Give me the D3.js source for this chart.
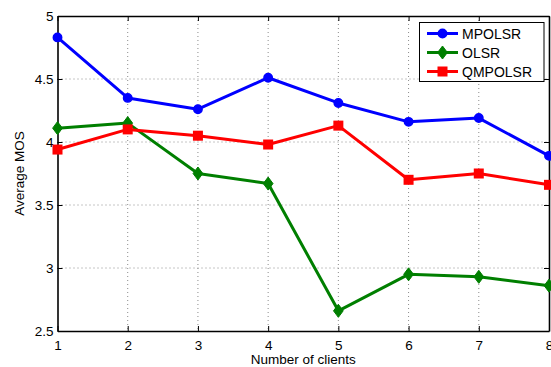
<!DOCTYPE html>
<html>
<head>
<meta charset="utf-8">
<script src="https://cdn.jsdelivr.net/npm/d3@7"></script>
<style>
  html, body { margin: 0; padding: 0; background: #fff; }
  svg { display: block; font-family: "Liberation Sans", Arial, Helvetica, sans-serif; }
</style>
</head>
<body>
<svg id="chart" width="551" height="367"></svg>
<script>
// Average MOS versus number of clients for three routing protocols
const clients = [1, 2, 3, 4, 5, 6, 7, 8];
const mpolsr  = [4.83, 4.35, 4.26, 4.51, 4.31, 4.16, 4.19, 3.89];
const olsr    = [4.11, 4.15, 3.75, 3.67, 2.66, 2.95, 2.93, 2.86];
const qmpolsr = [3.94, 4.10, 4.05, 3.98, 4.13, 3.70, 3.75, 3.66];
const xTicks = [1, 2, 3, 4, 5, 6, 7, 8];
const yTicks = [2.5, 3, 3.5, 4, 4.5, 5];
const yTickLabels = ["2.5", "3", "3.5", "4", "4.5", "5"];

const series = [
  { name: "MPOLSR",  values: mpolsr,  color: "#0000ff", marker: "circle" },
  { name: "OLSR",    values: olsr,    color: "#007f00", marker: "diamond" },
  { name: "QMPOLSR", values: qmpolsr, color: "#ff0000", marker: "square" }
];

const svg = d3.select("#chart");
const plotLeft = 57.5, plotRight = 549, plotTop = 16, plotBottom = 331;

const x = d3.scaleLinear().domain([1, 8]).range([plotLeft, plotRight]);
const y = d3.scaleLinear().domain([2.5, 5]).range([plotBottom, plotTop]);

// dotted grid
const grid = svg.append("g");
grid.selectAll("line.gx").data(xTicks.slice(1, -1)).join("line")
  .attr("x1", d => x(d)).attr("x2", d => x(d))
  .attr("y1", plotTop).attr("y2", plotBottom)
  .attr("stroke", "#8c8c8c").attr("stroke-width", 1).attr("stroke-dasharray", "1,3");
grid.selectAll("line.gy").data(yTicks.slice(1, -1)).join("line")
  .attr("x1", plotLeft).attr("x2", plotRight)
  .attr("y1", d => y(d)).attr("y2", d => y(d))
  .attr("stroke", "#8c8c8c").attr("stroke-width", 1).attr("stroke-dasharray", "1,3");

// axes (ticks pointing inward on all four sides)
const tickLen = 5;
const xAxisB = d3.axisBottom(x).tickValues(xTicks).tickFormat(d3.format("d")).tickSizeInner(-tickLen).tickSizeOuter(0).tickPadding(9);
const xAxisT = d3.axisTop(x).tickValues(xTicks).tickFormat("").tickSizeInner(-tickLen).tickSizeOuter(0);
const yAxisL = d3.axisLeft(y).tickValues(yTicks).tickFormat((d, i) => yTickLabels[i]).tickSizeInner(-tickLen).tickSizeOuter(0).tickPadding(4);
const yAxisR = d3.axisRight(y).tickValues(yTicks).tickFormat("").tickSizeInner(-tickLen).tickSizeOuter(0);

function style(g) {
  g.select(".domain").attr("stroke", "#000").attr("stroke-width", 1.6);
  g.selectAll(".tick line").attr("stroke", "#000").attr("stroke-width", 1);
  g.selectAll(".tick text").attr("fill", "#000").attr("font-size", 13.5)
    .attr("font-family", '"Liberation Sans", Arial, sans-serif');
}
svg.append("g").attr("transform", `translate(0,${plotBottom})`).call(xAxisB).call(style);
svg.append("g").attr("transform", `translate(0,${plotTop})`).call(xAxisT).call(style);
svg.append("g").attr("transform", `translate(${plotLeft},0)`).call(yAxisL).call(style);
svg.append("g").attr("transform", `translate(${plotRight},0)`).call(yAxisR).call(style);

// axis titles
svg.append("text").attr("x", (plotLeft + plotRight) / 2).attr("y", 363.5)
  .attr("text-anchor", "middle").attr("font-size", 13.5).text("Number of clients");
svg.append("text").attr("transform", `translate(24,${(plotTop + plotBottom) / 2}) rotate(-90)`)
  .attr("text-anchor", "middle").attr("font-size", 13.5).text("Average MOS");

// markers
function drawMarker(g, type, color, cx, cy) {
  if (type === "circle") {
    g.append("circle").attr("cx", cx).attr("cy", cy).attr("r", 4.2)
      .attr("fill", color).attr("stroke", color).attr("stroke-width", 1.5);
  } else if (type === "diamond") {
    const s = 6.5;
    g.append("path").attr("d", `M${cx},${cy - s}L${cx + s * 0.75},${cy}L${cx},${cy + s}L${cx - s * 0.75},${cy}Z`)
      .attr("fill", color).attr("stroke", color).attr("stroke-width", 1);
  } else {
    const s = 5;
    g.append("rect").attr("x", cx - s).attr("y", cy - s).attr("width", 2 * s).attr("height", 2 * s)
      .attr("fill", color);
  }
}

const plot = svg.append("g");
const line = d3.line().x((d, i) => x(clients[i])).y(d => y(d));
series.forEach(s => {
  plot.append("path").datum(s.values).attr("d", line)
    .attr("fill", "none").attr("stroke", s.color).attr("stroke-width", 3)
    .attr("stroke-linejoin", "round");
  const mg = plot.append("g");
  s.values.forEach((v, i) => drawMarker(mg, s.marker, s.color, x(clients[i]), y(v)));
});

// legend
const lg = svg.append("g");
lg.append("rect").attr("x", 419.5).attr("y", 22.5).attr("width", 124.5).attr("height", 59)
  .attr("fill", "#fff").attr("stroke", "#000").attr("stroke-width", 1);
series.forEach((s, i) => {
  const cy = 33.5 + i * 19;
  lg.append("line").attr("x1", 427).attr("x2", 458).attr("y1", cy).attr("y2", cy)
    .attr("stroke", s.color).attr("stroke-width", 3);
  drawMarker(lg, s.marker, s.color, 442.5, cy);
  lg.append("text").attr("x", 462).attr("y", cy + 5).attr("font-size", 14).text(s.name);
});
</script>
</body>
</html>
